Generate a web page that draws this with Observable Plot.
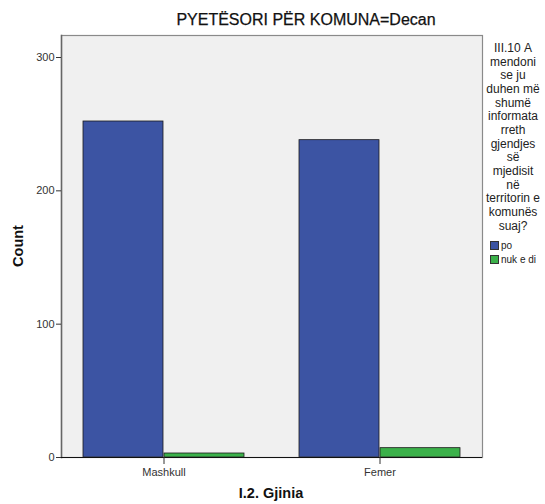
<!DOCTYPE html>
<html>
<head>
<meta charset="utf-8">
<script src="https://cdn.jsdelivr.net/npm/d3@7"></script>
<script src="https://cdn.jsdelivr.net/npm/@observablehq/plot@0.6"></script>
<style>
  html, body { margin: 0; padding: 0; background: #fff; overflow: hidden; }
  #wrap { position: relative; width: 545px; height: 504px; overflow: hidden; font-family: "Liberation Sans", Arial, sans-serif; color: #222; }
  #chart { position: absolute; left: 0; top: 0; }
  .abs { position: absolute; white-space: nowrap; }
  #title { left: 306px; top: 11px; transform: translateX(-50%); font-size: 16px; color: #111; -webkit-text-stroke: 0.25px #111; }
  #ylab { left: 18px; top: 246px; transform: translate(-50%, -50%) rotate(-90deg); font-size: 14.5px; font-weight: bold; color: #111; }
  #xlab { left: 271px; top: 485px; transform: translateX(-50%); font-size: 14.5px; font-weight: bold; color: #111; }
  #legtitle { left: 484px; width: 58px; top: 42px; text-align: center; font-size: 12px; line-height: 13.65px; color: #222; white-space: normal; }
  .li { left: 490px; font-size: 10px; color: #222; display: flex; align-items: center; }
  .sw { width: 9px; height: 9px; border: 1px solid #333; margin-right: 2px; box-sizing: border-box; }
</style>
</head>
<body>
<div id="wrap">
  <div id="chart"></div>
  <div id="title" class="abs"></div>
  <div id="ylab" class="abs"></div>
  <div id="xlab" class="abs"></div>
  <div id="legtitle" class="abs"></div>
  <div id="legend"></div>
</div>
<script>
const titleText = "PYETËSORI PËR KOMUNA=Decan";
const xTitle = "I.2. Gjinia";
const yTitle = "Count";
const legendLines = ["III.10 A", "mendoni", "se ju", "duhen më", "shumë", "informata", "rreth", "gjendjes", "së", "mjedisit", "në", "territorin e", "komunës", "suaj?"];

const genders = ["Mashkull", "Femer"];
const responses = ["po", "nuk e di"];
const countPo = [252, 238];
const countNukEDi = [3, 7];
const yTicks = [0, 100, 200, 300];
const colors = ["#3c54a3", "#3bb14a"];

const rows = [];
genders.forEach((g, i) => {
  rows.push({gender: g, response: responses[0], count: countPo[i]});
  rows.push({gender: g, response: responses[1], count: countNukEDi[i]});
});

const W = 545, H = 504;
const mL = 61, mR = 63, mT = 35, mB = 47;

const chart = Plot.plot({
  width: W,
  height: H,
  marginLeft: mL,
  marginRight: mR,
  marginTop: mT,
  marginBottom: mB,
  style: {fontFamily: "'Liberation Sans', Arial, sans-serif", background: "transparent", color: "#333"},
  x: {domain: genders, paddingInner: 0.2535, paddingOuter: 0.0968},
  y: {domain: [0, 316.5]},
  color: {domain: responses, range: colors},
  marks: [
    Plot.frame({fill: "#f0f0f0", stroke: null}),
    Plot.barY(rows.filter(d => d.response === responses[0]), {
      x: "gender", y: "count", fill: "response", stroke: "#1a1a1a", strokeWidth: 0.8, insetRight: 81
    }),
    Plot.barY(rows.filter(d => d.response === responses[1]), {
      x: "gender", y: "count", fill: "response", stroke: "#1a1a1a", strokeWidth: 0.8, insetLeft: 81
    }),
    Plot.frame({stroke: "#8a8a8a", strokeWidth: 1.2}),
    Plot.frame({anchor: "left", stroke: "#666", strokeWidth: 1.5}),
    Plot.ruleY([0], {stroke: "#111", strokeWidth: 1.2}),
    Plot.axisY({ticks: yTicks, tickSize: 5, tickPadding: 2, fontSize: 11, label: null, stroke: "#333", fill: "#333"}),
    Plot.axisX({tickSize: 7, tickPadding: 4, fontSize: 11, label: null, stroke: "#333", fill: "#333"})
  ]
});
document.getElementById("chart").appendChild(chart);

document.getElementById("title").textContent = titleText;
document.getElementById("ylab").textContent = yTitle;
document.getElementById("xlab").textContent = xTitle;
document.getElementById("legtitle").innerHTML = legendLines.map(s => s.replace(/ /g, "&nbsp;")).join("<br>");

const leg = document.getElementById("legend");
responses.forEach((r, i) => {
  const d = document.createElement("div");
  d.className = "abs li";
  d.style.top = (240 + i * 14) + "px";
  const sw = document.createElement("span");
  sw.className = "sw";
  sw.style.background = colors[i];
  d.appendChild(sw);
  const t = document.createElement("span");
  t.textContent = r;
  d.appendChild(t);
  leg.appendChild(d);
});
</script>
</body>
</html>
